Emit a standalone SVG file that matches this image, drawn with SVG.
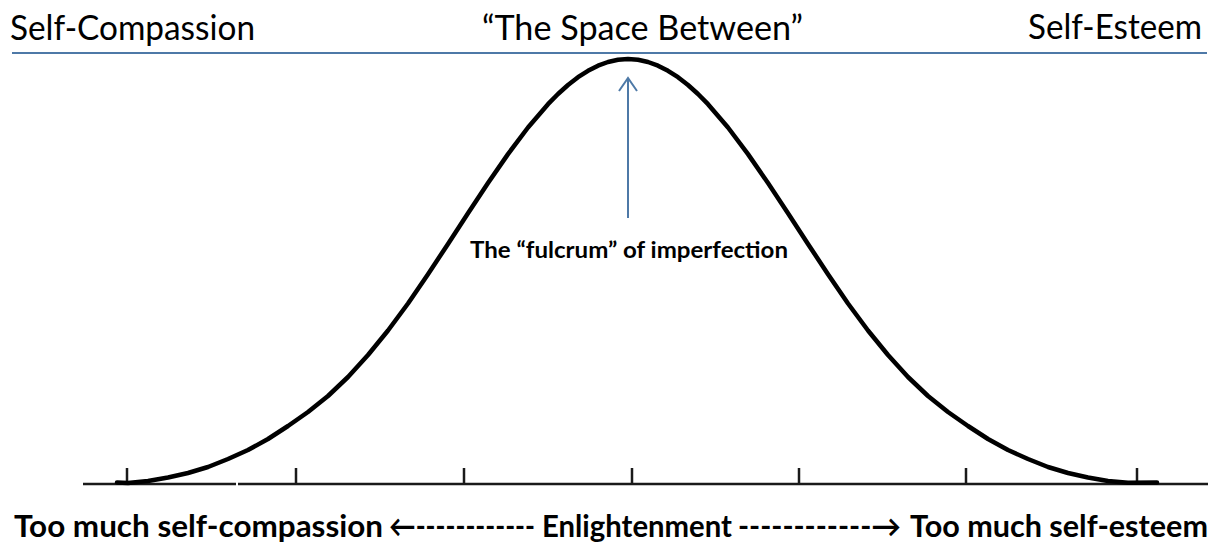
<svg xmlns="http://www.w3.org/2000/svg" width="1219" height="551" viewBox="0 0 1219 551">
  <style>
    .hdr { font-family: Lato, "Open Sans", "Liberation Sans", sans-serif; font-size: 35px; fill: #000; }
    .lbl { font-family: Lato, "Open Sans", "Liberation Sans", sans-serif; font-size: 23px; font-weight: bold; fill: #000; }
    .bot { font-family: Lato, "Open Sans", "Liberation Sans", sans-serif; font-size: 30px; font-weight: bold; fill: #000; }
    .blue { stroke: #4e79a7; stroke-width: 2; fill: none; }
    .axis { stroke: #1a1a1a; stroke-width: 2.5; fill: none; }
    .curve { stroke: #000; stroke-width: 4.5; fill: none; stroke-linejoin: round; stroke-linecap: round; }
  </style>
  <rect width="1219" height="551" fill="#fff"/>

  <g id="header">
    <line class="blue" x1="12" y1="53" x2="1207" y2="53"/>
    <text id="label-self-compassion" class="hdr" x="10" y="40" textLength="245" lengthAdjust="spacingAndGlyphs">Self-Compassion</text>
    <text id="label-space-between" class="hdr" x="482" y="40" textLength="321" lengthAdjust="spacingAndGlyphs">“The Space Between”</text>
    <text id="label-self-esteem" class="hdr" x="1028" y="39" textLength="174" lengthAdjust="spacingAndGlyphs">Self-Esteem</text>
  </g>

  <g id="axis">
    <line class="axis" x1="83" y1="484" x2="236" y2="484"/>
    <line class="axis" x1="238" y1="484" x2="1208" y2="484"/>
    <g class="axis">
      <line x1="127" y1="468" x2="127" y2="484"/>
      <line x1="296" y1="468" x2="296" y2="484"/>
      <line x1="464" y1="468" x2="464" y2="484"/>
      <line x1="632" y1="468" x2="632" y2="484"/>
      <line x1="799" y1="468" x2="799" y2="484"/>
      <line x1="966" y1="468" x2="966" y2="484"/>
      <line x1="1137" y1="468" x2="1137" y2="484"/>
    </g>
  </g>

  <g id="bell-curve">
    <polyline class="curve" points="117,482.5 128,483 148,481 168,477.5 188,473 208,467 228,459 248,450 268,439 288,426 308,412 328,396 348,377 368,355 388,330.5 408,303.5 428,274.3 448,243.9 468,213.2 488,183 508,154.1 528,127.5 548,104.2 558,94 568,85 578,77.2 588,70.8 598,65.7 608,62 618,59.8 628,59 638,59.8 648,62 658,65.7 668,70.8 678,77.2 688,85 698,94 708,104.2 728,127.5 748,154.1 768,183 788,213.2 808,243.9 828,274.3 848,303.5 868,330.5 888,355 908,377 928,396 948,412 968,426 988,439 1008,450 1028,459 1048,467 1068,473 1088,477.5 1108,481 1128,482.8 1157,482.5"/>
  </g>

  <g id="connectors">
    <line class="blue" x1="628" y1="218" x2="628" y2="79"/>
    <polyline class="blue" points="619,91 628,78 637,91"/>
  </g>

  <g id="label-fulcrum">
    <text class="lbl" x="470" y="258" textLength="318" lengthAdjust="spacingAndGlyphs">The “fulcrum” of imperfection</text>
  </g>

  <g id="bottom-labels">
    <text class="bot" x="14" y="537" textLength="369" lengthAdjust="spacingAndGlyphs">Too much self-compassion</text>
    <text class="bot" x="389" y="537" textLength="146" lengthAdjust="spacingAndGlyphs">←------------</text>
    <text class="bot" x="542" y="537" textLength="190" lengthAdjust="spacingAndGlyphs">Enlightenment</text>
    <text class="bot" x="738" y="537" textLength="163" lengthAdjust="spacingAndGlyphs">------------→</text>
    <text class="bot" x="910" y="537" textLength="298" lengthAdjust="spacingAndGlyphs">Too much self-esteem</text>
  </g>
</svg>
